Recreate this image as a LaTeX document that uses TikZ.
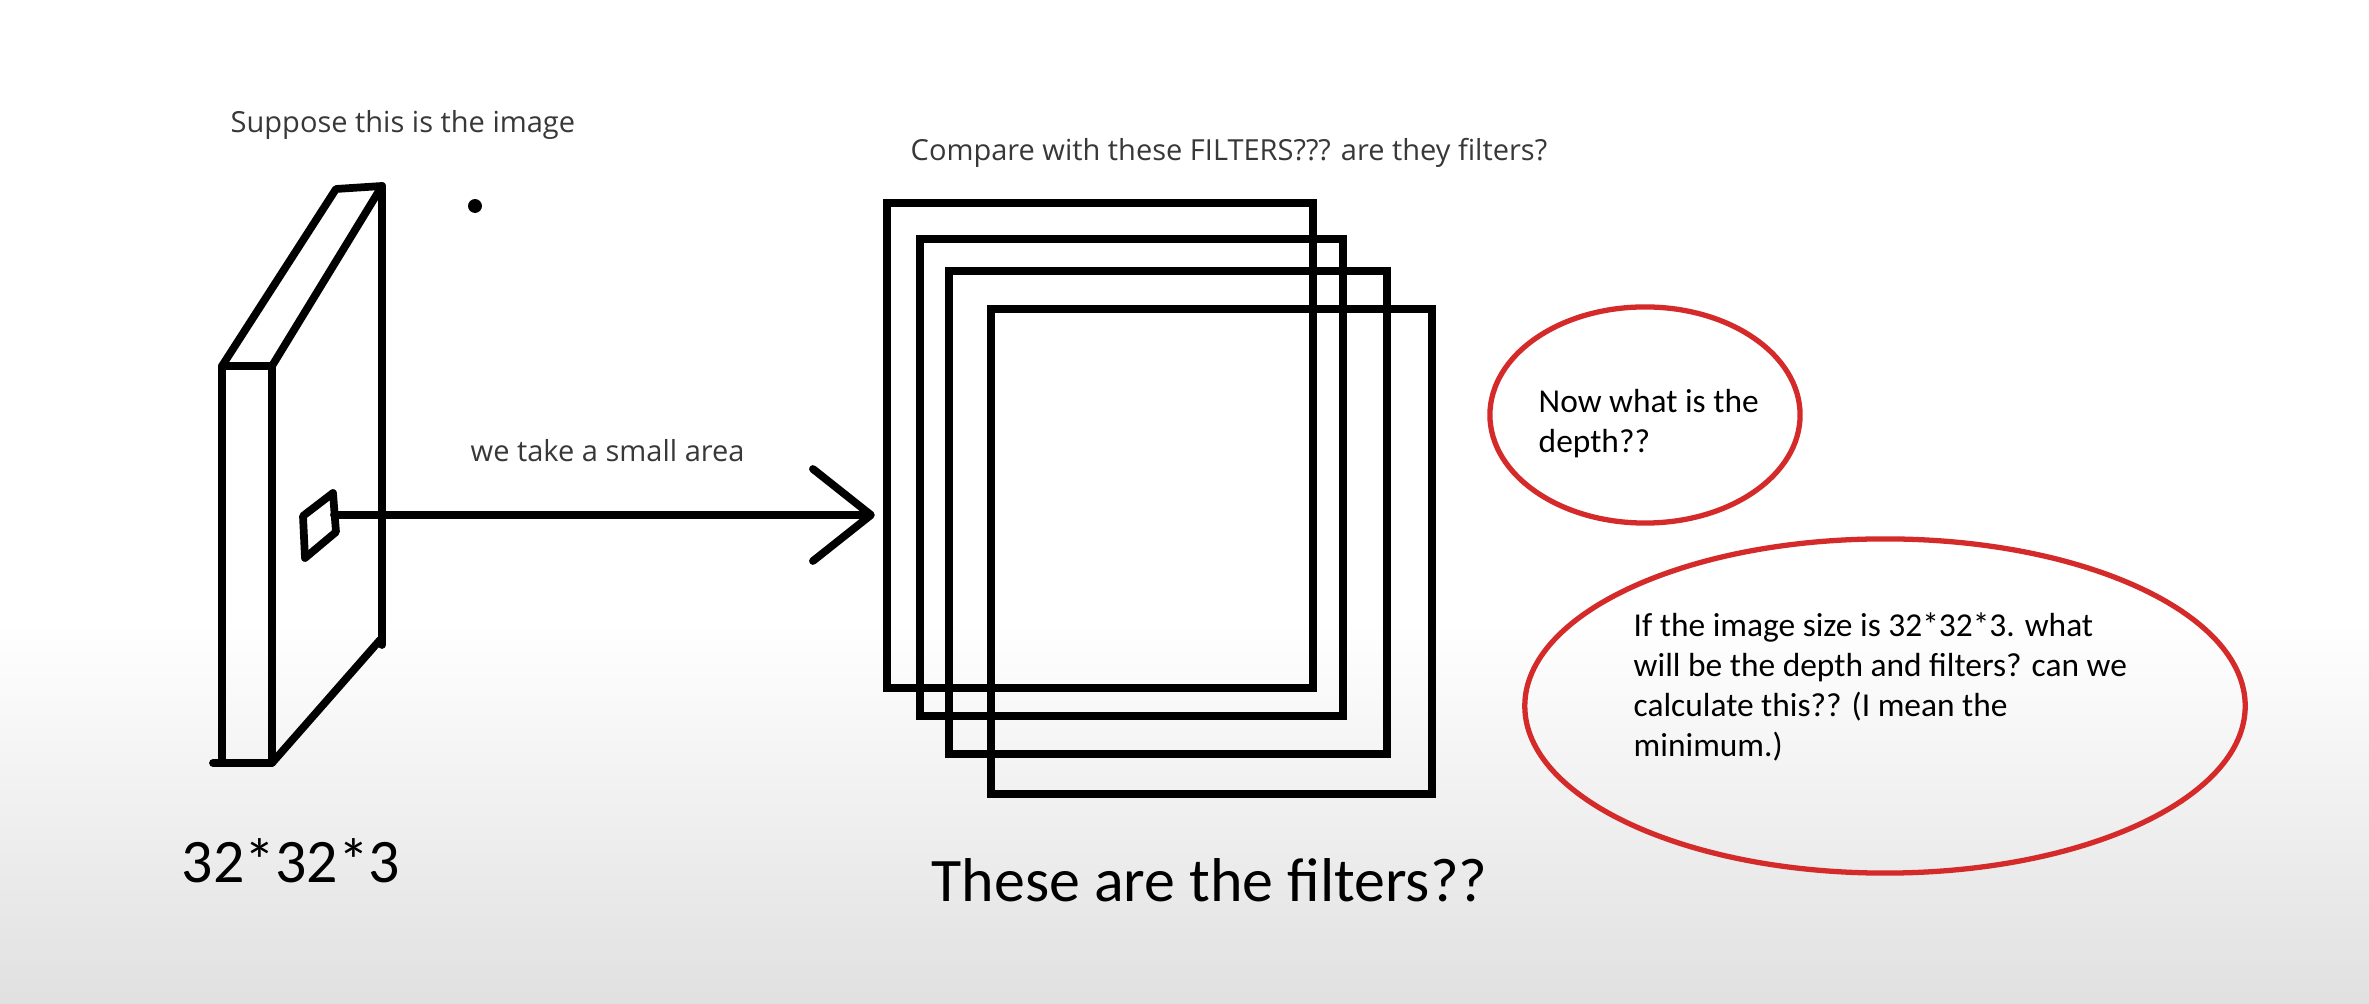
\documentclass[tikz,border=0pt]{standalone}
\usepackage{fontspec}
\setmainfont{Carlito}
\newfontfamily\opensans{Open Sans}
\usepackage{xcolor}
\usetikzlibrary{shapes, arrows.meta, positioning}
\definecolor{ringred}{HTML}{D42A2A}

\begin{document}
\begin{tikzpicture}[x=0.01cm, y=-0.01cm,
    pen/.style={line width=2.2pt, line join=round, line cap=round},
    filt/.style={draw, line width=2.3pt, inner sep=0pt},
    note/.style={font=\opensans\fontsize{8.25}{10}\selectfont, text=black!78, inner sep=0pt},
    redring/.style={draw=ringred, line width=1.5pt, ellipse, inner sep=0pt},
    ringtext/.style={font=\fontsize{9.5}{11.4}\selectfont, align=left, inner sep=0pt},
    biglabel/.style={font=\fontsize{17.6}{21}\selectfont, inner sep=0pt}]
        \fill[white] (0,0) rectangle (2369,1004);
        \shade[top color=white, bottom color=black!12] (0,620) rectangle (2369,1004);
        \useasboundingbox (0,0) rectangle (2369,1004);

        \draw[pen] (213,763) -- (272,763) -- (272,366) -- (222,366) -- (222,763);
        \draw[pen] (222,366) -- (336,189) -- (382,186) -- (272,366);
        \draw[pen] (382,186) -- (382,645);
        \draw[pen] (272,763) -- (380,640);
        \draw[pen] (303,516) -- (333,493) -- (336,532) -- (305,558) -- cycle;
        \coordinate (patch) at (334,515);
        \node[fill, circle, inner sep=1.4pt] (dot) at (475,206) {};

        \foreach \n/\cx/\cy/\w/\h in {f1/1100/445.5/4.26/4.85, f2/1131.5/477.5/4.23/4.77,
                                      f3/1168/512.5/4.38/4.83, f4/1211.5/551.5/4.41/4.85} {
            \node[filt, minimum width=\w cm, minimum height=\h cm] (\n) at (\cx,\cy) {};
        }
        \draw[pen, -{Straight Barb[length=0.58cm, width=0.92cm, round]}, shorten >=0.08cm] (patch) -- (patch -| f1.west);

        \node[note, anchor=base west] (suppose) at (230,133) {Suppose this is the image};
        \node[note, anchor=base west] (compare) at (910,161) {Compare with these FILTERS??? are they filters?};
        \node[note, anchor=base west] (smallarea) at (470,462) {we take a small area};
        \node[biglabel, anchor=base west] (imgsize) at (181,883) {32*32*3};
        \node[biglabel, anchor=base west] (filtlabel) at (931,902) {These are the filters??};

        \node[redring, minimum width=3.1cm, minimum height=2.16cm] (depthring) at (1645,415) {};
        \node[ringtext, anchor=base west] (depthq) at (1538,453) {Now what is the\\depth??};
        \node[redring, minimum width=7.2cm, minimum height=3.34cm] (sizering) at (1885,706) {};
        \node[ringtext, anchor=base west] (sizeq) at (1633,757) {If the image size is 32*32*3. what\\will be the depth and filters? can we\\calculate this?? (I mean the\\minimum.)};
    \end{tikzpicture}
\end{document}
